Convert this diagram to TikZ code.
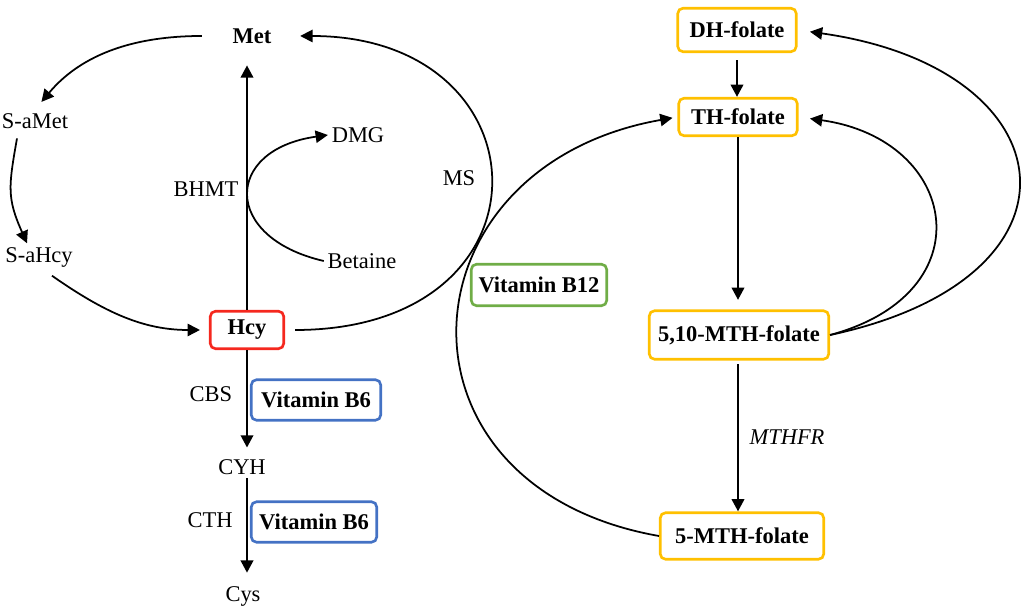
\documentclass[tikz,border=0pt]{standalone}
\usepackage{fontspec}
\setmainfont{Liberation Serif}
\usetikzlibrary{arrows.meta,calc}
\definecolor{hcyred}{RGB}{245,40,30}
\definecolor{vitblue}{RGB}{68,114,196}
\definecolor{vitgreen}{RGB}{112,173,71}
\definecolor{folorange}{RGB}{255,192,0}

\begin{document}
\begin{tikzpicture}[x=0.02cm,y=0.02cm,
  every node/.style={font=\fontsize{12.8}{15}\selectfont,inner sep=2pt},
  boldlabel/.style={font=\fontsize{12.8}{15}\selectfont\bfseries},
  boxstyle/.style={draw,rounded corners=3pt,line width=1.5pt,font=\fontsize{12.8}{15}\selectfont\bfseries},
  hcystyle/.style={boxstyle,draw=hcyred,minimum width=1.47cm,minimum height=0.75cm},
  bsixstyle/.style={boxstyle,draw=vitblue,minimum height=0.81cm},
  btwelvestyle/.style={boxstyle,draw=vitgreen,minimum width=2.71cm,minimum height=0.83cm},
  folatestyle/.style={boxstyle,draw=folorange},
  thickarrow/.style={line width=1.5pt,-{Triangle[length=7pt,width=7pt]}},
  curvearrow/.style={line width=1pt,-{Triangle[length=7pt,width=7pt]}}]
\useasboundingbox (0,0) rectangle (1021,611);
       \node [boldlabel] (met) at (252,575) {Met};
       \node (samet) at (35,490) {S-aMet};
       \node (sahcy) at (39,354) {S-aHcy};
       \node [hcystyle] (hcy) at (247,281) {Hcy};
       \node (dmg) at (358,476) {DMG};
       \node (betaine) at (362,350) {Betaine};
       \node (bhmt) at (206,422) {BHMT};
       \node (ms) at (459,433) {MS};
       \node (cbs) at (211,217) {CBS};
       \node [bsixstyle,minimum width=2.59cm] (bsixa) at (316,211) {Vitamin B6};
       \node (cyh) at (242,144) {CYH};
       \node (cth) at (210,91) {CTH};
       \node [bsixstyle,minimum width=2.51cm] (bsixb) at (314,89) {Vitamin B6};
       \node (cys) at (243,15) {Cys};
       \node [btwelvestyle] (btwelve) at (539,326) {Vitamin B12};
       \node [folatestyle,minimum width=2.37cm,minimum height=0.87cm] (dh) at (737,581) {DH-folate};
       \node [folatestyle,minimum width=2.37cm,minimum height=0.75cm] (th) at (738,494) {TH-folate};
       \node [folatestyle,minimum width=3.59cm,minimum height=0.97cm] (mthten) at (739,276) {5,10-MTH-folate};
       \node [font=\fontsize{12.8}{15}\selectfont\itshape] (mthfr) at (787,174) {MTHFR};
       \node [folatestyle,minimum width=3.27cm,minimum height=0.93cm] (mthfive) at (742,75) {5-MTH-folate};

\draw [thickarrow,shorten >=0.36cm] (hcy.north) -- (hcy.north |- met.south);
\draw [curvearrow,shorten <=0.54cm,shorten >=0.2cm] (met.west) to[out=180,in=50] (samet.north);
\draw [curvearrow] ($(samet.south)+(-18,-6)$) to[out=260,in=114,looseness=1.2] ($(sahcy.north)+(-12,0)$);
\draw [curvearrow,shorten >=0.18cm] ($(sahcy.south)+(13,-5)$) to[out=-35,in=180] (hcy.west);
\draw [curvearrow,shorten <=0.2cm,shorten >=0.5cm] (hcy.east) .. controls +(275,0) and +(275,0) .. (met.east);
\draw [curvearrow] (betaine.west) .. controls +(167:105) and +(188:105) .. (dmg.west);
\draw [thickarrow,shorten >=0.16cm] (hcy.south) -- (hcy.south |- cyh.north);
\draw [thickarrow,shorten >=0.19cm] (hcy.south |- cyh.south) -- (hcy.south |- cys.north);

\draw [thickarrow,shorten <=0.14cm] (dh.south) -- (dh.south |- th.north);
\draw [thickarrow,shorten >=0.19cm] (th.south) -- (th.south |- mthten.north);
\draw [thickarrow,shorten <=0.07cm] (th.south |- mthten.south) -- (th.south |- mthfive.north);
\draw [curvearrow,shorten >=0.1cm] (mthfive.west) .. controls +(170:284) and +(190:284) .. (th.west);
\draw [curvearrow,shorten >=0.23cm] (mthten.east) .. controls +(15:162) and +(-8:162) .. (th.east);
\draw [curvearrow,shorten >=0.25cm] (mthten.east) .. controls +(12:275) and +(-8:275) .. (dh.east);
\end{tikzpicture}
\end{document}
